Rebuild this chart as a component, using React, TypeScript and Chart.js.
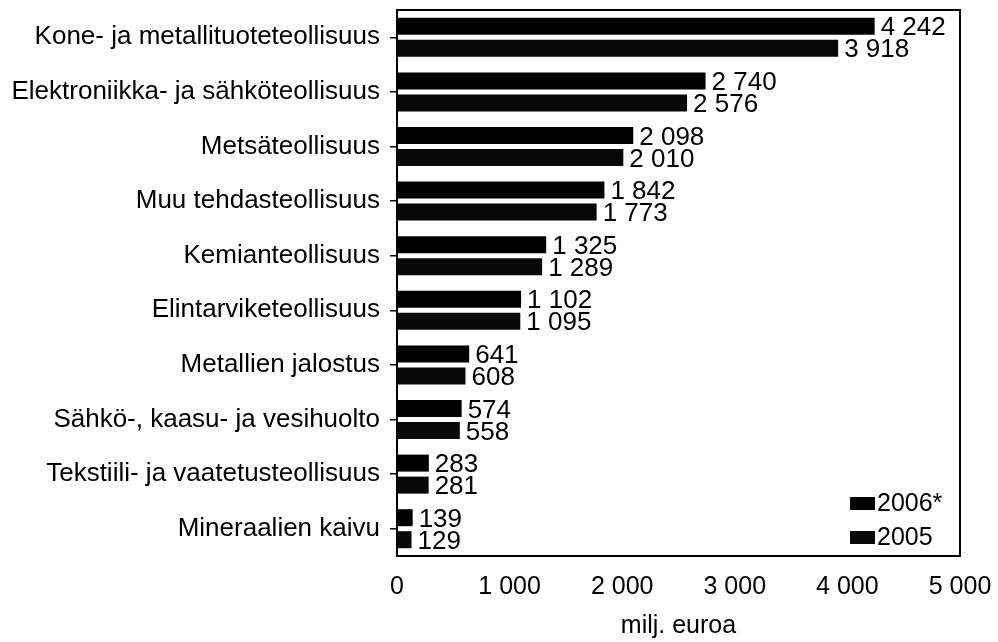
import React, { useEffect, useRef } from "react";
import { Chart, registerables } from "chart.js";

Chart.register(...registerables);

const categories = [
  "Kone- ja metallituoteteollisuus",
  "Elektroniikka- ja sähköteollisuus",
  "Metsäteollisuus",
  "Muu tehdasteollisuus",
  "Kemianteollisuus",
  "Elintarviketeollisuus",
  "Metallien jalostus",
  "Sähkö-, kaasu- ja vesihuolto",
  "Tekstiili- ja vaatetusteollisuus",
  "Mineraalien kaivu",
];
const values2006 = [4242, 2740, 2098, 1842, 1325, 1102, 641, 574, 283, 139];
const values2005 = [3918, 2576, 2010, 1773, 1289, 1095, 608, 558, 281, 129];
const seriesLabels = ["2006*", "2005"];
const xTicks = [0, 1000, 2000, 3000, 4000, 5000];
const axisTitle = "milj. euroa";

const FONT = '"Liberation Sans", Arial, sans-serif';

const fmt = (v: number) => String(v).replace(/\B(?=(\d{3})+(?!\d))/g, " ");

const valueLabels = {
  id: "valueLabels",
  afterDatasetsDraw(chart: any) {
    const ctx = chart.ctx;
    ctx.save();
    ctx.fillStyle = "#000";
    ctx.font = `26px ${FONT}`;
    ctx.textAlign = "left";
    ctx.textBaseline = "middle";
    chart.data.datasets.forEach((ds: any, di: number) => {
      const meta = chart.getDatasetMeta(di);
      meta.data.forEach((el: any, i: number) => {
        ctx.fillText(fmt(ds.data[i]), el.x + 6, el.y + 2);
      });
    });
    ctx.restore();
  },
};

const frameAndLegend = {
  id: "frameAndLegend",
  afterDraw(chart: any) {
    const ctx = chart.ctx;
    const a = chart.chartArea;
    ctx.save();
    ctx.strokeStyle = "#000";
    ctx.lineWidth = 2;
    ctx.strokeRect(a.left, a.top, a.right - a.left, a.bottom - a.top);
    // legend inside plot, bottom right
    ctx.font = `25px ${FONT}`;
    ctx.textAlign = "left";
    ctx.textBaseline = "middle";
    chart.data.datasets.forEach((ds: any, di: number) => {
      const cy = a.bottom - 53 + di * 34;
      const bx = a.right - 110;
      ctx.fillStyle = ds.backgroundColor;
      ctx.fillRect(bx, cy - 6, 25, 13);
      ctx.fillStyle = "#000";
      ctx.fillText(ds.label, bx + 27, cy + 1);
    });
    ctx.restore();
  },
};

export default function App() {
  const ref = useRef<HTMLCanvasElement | null>(null);
  useEffect(() => {
    if (!ref.current) return;
    const chart = new Chart(ref.current, {
      type: "bar",
      data: {
        labels: categories,
        datasets: [
          { label: seriesLabels[0], data: values2006, backgroundColor: "#000", borderWidth: 0 },
          { label: seriesLabels[1], data: values2005, backgroundColor: "#080808", borderWidth: 0 },
        ],
      },
      plugins: [valueLabels, frameAndLegend],
      options: {
        indexAxis: "y",
        responsive: false,
        animation: false,
        devicePixelRatio: 1,
        categoryPercentage: 0.806,
        barPercentage: 0.773,
        layout: { padding: { top: 10, right: 38, bottom: 0, left: 0 } },
        plugins: { legend: { display: false }, tooltip: { enabled: false }, title: { display: false } },
        scales: {
          x: {
            type: "linear",
            min: 0,
            max: 5000,
            afterBuildTicks: (s: any) => {
              s.ticks = xTicks.map((v) => ({ value: v }));
            },
            afterFit: (s: any) => {
              s.height = 86;
              s.paddingLeft = 0;
              s.paddingRight = 0;
            },
            grid: { display: false, drawTicks: false },
            border: { display: false },
            ticks: {
              color: "#000",
              font: { family: FONT, size: 25 },
              padding: 16,
              maxRotation: 0,
              callback: (v: any) => fmt(Number(v)),
            },
            title: {
              display: true,
              text: axisTitle,
              color: "#000",
              font: { family: FONT, size: 25, lineHeight: 1.2 },
              padding: { top: 0, bottom: 1 },
            },
          },
          y: {
            type: "category",
            afterFit: (s: any) => {
              s.width = 397;
              s.paddingTop = 0;
              s.paddingBottom = 0;
            },
            grid: {
              display: true,
              offset: false,
              drawOnChartArea: false,
              drawTicks: true,
              tickLength: 7,
              color: "#000",
              lineWidth: 1.5,
            },
            border: { display: true, color: "#000", width: 2 },
            ticks: {
              color: "#000",
              font: { family: FONT, size: 26 },
              padding: 10,
              autoSkip: false,
            },
          },
        },
      },
    });
    return () => chart.destroy();
  }, []);
  return (
    <div style={{ position: "fixed", left: 0, top: 0, width: 998, height: 642, background: "#fff" }}>
      <canvas ref={ref} width={998} height={642} style={{ display: "block", width: 998, height: 642 }} />
    </div>
  );
}
